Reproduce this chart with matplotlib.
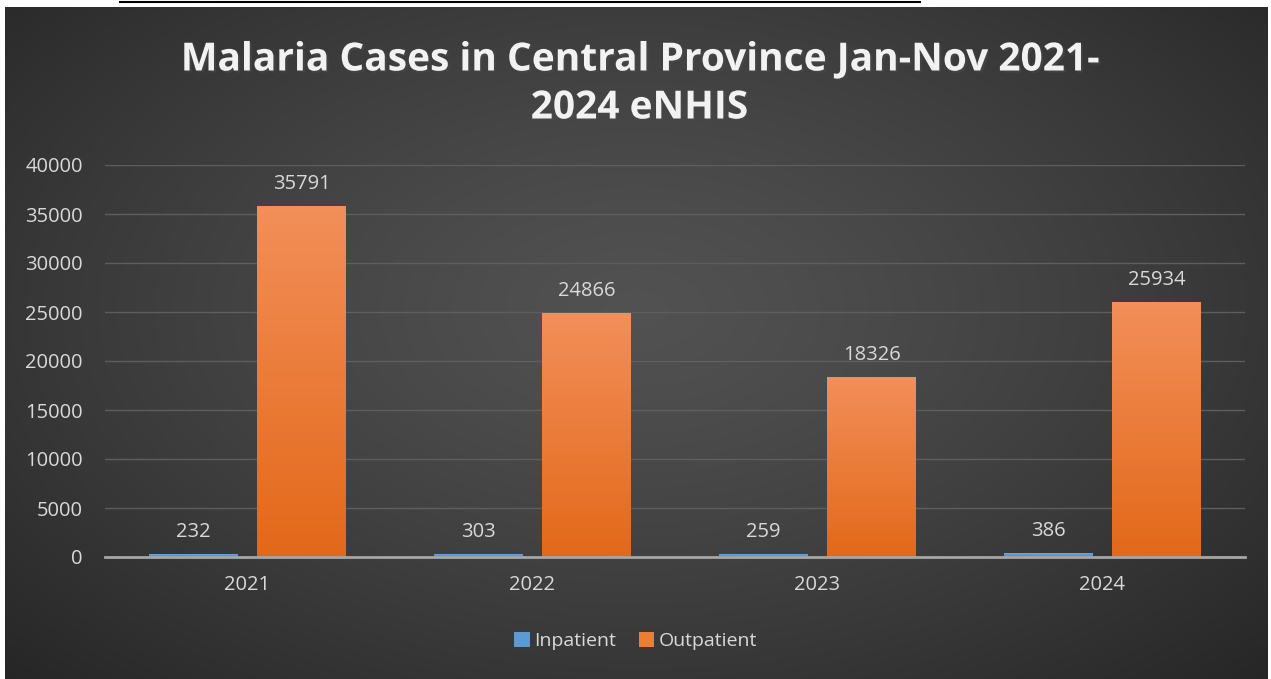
import numpy as np
import matplotlib
matplotlib.use('Agg')
import matplotlib.pyplot as plt
import matplotlib.patheffects as pe
from matplotlib.lines import Line2D
from matplotlib.patches import Patch

# data
years = ['2021', '2022', '2023', '2024']
inpatient = [232, 303, 259, 386]
outpatient = [35791, 24866, 18326, 25934]
yticks = [0, 5000, 10000, 15000, 20000, 25000, 30000, 35000, 40000]

W, H = 1271, 679
fig = plt.figure(figsize=(W / 100, H / 100), dpi=100)
fig.patch.set_facecolor('white')

# dark radial background panel
bg = fig.add_axes([5 / W, 0, 1263 / W, 672 / H])
bg.set_axis_off()
yy, xx = np.mgrid[0:1:300j, 0:1:600j]
r = np.sqrt(((xx - 0.5) * 1.0) ** 2 + ((yy - 0.55) * 0.9) ** 2)
r = r / r.max()
shade = 0.32 - 0.17 * r ** 1.3
img = np.dstack([shade, shade, shade])
bg.imshow(img, extent=[0, 1, 0, 1], aspect='auto', origin='lower')
bg.set_xlim(0, 1)
bg.set_ylim(0, 1)

# black rule at very top
fig.add_artist(Line2D([120 / W, 920 / W], [1 - 2 / H, 1 - 2 / H], color='black', lw=1.5,
                      transform=fig.transFigure))

ax = fig.add_axes([105 / W, 1 - 557 / H, 1140 / W, 392 / H])
ax.set_facecolor('none')

x = np.arange(len(years))
bw = 0.31
gap = 0.07
off = (bw + gap) / 2

def grad_bar(xc, h, top_col, bot_col):
    cols = np.linspace(np.array(bot_col), np.array(top_col), 100).reshape(100, 1, 3)
    ax.imshow(cols, extent=[xc - bw / 2, xc + bw / 2, 0, h], aspect='auto', origin='lower', zorder=3)

blue_top = (0.42, 0.66, 0.88)
blue_bot = (0.27, 0.53, 0.80)
or_top = (0.95, 0.56, 0.35)
or_bot = (0.89, 0.41, 0.10)

for i in range(len(years)):
    grad_bar(x[i] - off, inpatient[i], blue_top, blue_bot)
    grad_bar(x[i] + off, outpatient[i], or_top, or_bot)
    ax.annotate(str(inpatient[i]), (x[i] - off, inpatient[i]), xytext=(0, 9), textcoords='offset points',
                ha='center', va='bottom', color='#d9d9d9', fontsize=14.5, family='Open Sans')
    ax.annotate(str(outpatient[i]), (x[i] + off, outpatient[i]), xytext=(0, 9), textcoords='offset points',
                ha='center', va='bottom', color='#d9d9d9', fontsize=14.5, family='Open Sans')

ax.set_xlim(-0.5, len(years) - 0.5)
ax.set_ylim(0, 40000)
ax.set_yticks(yticks)
ax.set_yticklabels([str(v) for v in yticks])
ax.set_xticks(x)
ax.set_xticklabels(years)
for lab in ax.get_xticklabels() + ax.get_yticklabels():
    lab.set_family('Open Sans')
    lab.set_fontsize(14.5)
    lab.set_color('#d9d9d9')
ax.tick_params(axis='y', length=0, pad=16)
ax.tick_params(axis='x', length=0, pad=13)
ax.grid(axis='y', color='#5e5e5e', lw=1, zorder=0)
for s in ['left', 'right', 'top']:
    ax.spines[s].set_visible(False)
ax.spines['bottom'].set_color('#a6a6a6')
ax.spines['bottom'].set_linewidth(2)
ax.spines['bottom'].set_zorder(4)

# title
fig.text(0.503, 1 - 84 / H, 'Malaria Cases in Central Province Jan-Nov 2021-\n2024 eNHIS',
         ha='center', va='center', color='#f2f2f2', fontsize=28, fontweight='bold',
         family='Open Sans', linespacing=1.3,
         path_effects=[pe.SimplePatchShadow(offset=(1.5, -1.5), alpha=0.6), pe.Normal()])

# legend
handles = [Patch(facecolor='#5b9bd5', label='Inpatient'), Patch(facecolor='#ed7d31', label='Outpatient')]
leg = fig.legend(handles=handles, loc='center', bbox_to_anchor=(0.5, 1 - 641 / H), ncol=2, frameon=False,
                 handlelength=0.8, handleheight=0.8, handletextpad=0.2, columnspacing=1.2,
                 prop={'family': 'Open Sans', 'size': 14})
for t in leg.get_texts():
    t.set_color('#d9d9d9')

fig.savefig('out.png', dpi=100, facecolor=fig.get_facecolor())
